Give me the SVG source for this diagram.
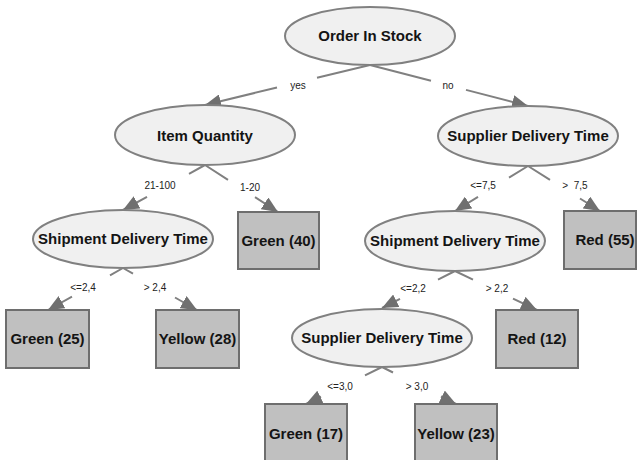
<svg xmlns="http://www.w3.org/2000/svg" width="638" height="460" viewBox="0 0 638 460">
  <defs>
    <marker id="arrow" markerUnits="userSpaceOnUse" markerWidth="16" markerHeight="14" viewBox="0 0 16 14" refX="16" refY="7" orient="auto">
      <path d="M0,0 L16,7 L0,14 z" fill="#707070"/>
    </marker>
    <style>
      .edge { fill: none; stroke: #808080; stroke-width: 2; marker-end: url(#arrow); }
      .elabel { font-family: "Liberation Sans", Arial, sans-serif; font-size: 10px; fill: #222; text-anchor: middle; white-space: pre; }
      .decision ellipse { fill: #f0f0f0; stroke: #808080; stroke-width: 2; }
      .leaf rect { fill: #c0c0c0; stroke: #6e6e6e; stroke-width: 2; }
      .nlabel { font-family: "Liberation Sans", Arial, sans-serif; font-size: 15px; font-weight: bold; fill: #141414; text-anchor: middle; }
    </style>
  </defs>
  <rect width="638" height="460" fill="#ffffff"/>

  <!-- connectors: parent bottom to child top, broken around the branch label -->
  <g id="connectors">
    <path class="edge" d="M370,65 L317,77.8 M277,87.5 L205,105"/>
    <path class="edge" d="M370,65 L431,80.8 M466,89.9 L528,106"/>
    <path class="edge" d="M205,165 L189,173.8 M147,196.8 L123,210"/>
    <path class="edge" d="M205,165 L228,179.8 M255,197.2 L278,212"/>
    <path class="edge" d="M528,166 L509,177.7 M478,196.8 L455,211"/>
    <path class="edge" d="M528,166 L550,179.8 M580,198.5 L600,211"/>
    <path class="edge" d="M123,268 L110,275.3 M72,296.6 L48,310"/>
    <path class="edge" d="M123,268 L133,273.7 M175,297.5 L197,310"/>
    <path class="edge" d="M455,271 L438,279.6 M400,298.9 L382,308"/>
    <path class="edge" d="M455,271 L473,279.6 M513,298.6 L537,310"/>
    <path class="edge" d="M382,367 L365,375.3 M321,396.7 L306,404"/>
    <path class="edge" d="M382,367 L393,372.5 M441,396.5 L456,404"/>

    <text class="elabel" x="298" y="89">yes</text>
    <text class="elabel" x="448" y="89">no</text>
    <text class="elabel" x="160" y="189">21-100</text>
    <text class="elabel" x="250" y="191">1-20</text>
    <text class="elabel" x="483" y="189">&lt;=7,5</text>
    <text class="elabel" x="575" y="189">&gt;  7,5</text>
    <text class="elabel" x="83" y="291">&lt;=2,4</text>
    <text class="elabel" x="155" y="291">&gt; 2,4</text>
    <text class="elabel" x="413" y="292">&lt;=2,2</text>
    <text class="elabel" x="497" y="292">&gt; 2,2</text>
    <text class="elabel" x="340" y="390">&lt;=3,0</text>
    <text class="elabel" x="417" y="390">&gt; 3,0</text>
  </g>

  <!-- decision nodes -->
  <g id="order-in-stock" class="decision">
    <ellipse cx="370" cy="36" rx="85" ry="29"/>
    <text class="nlabel" x="370" y="41">Order In Stock</text>
  </g>
  <g id="item-quantity" class="decision">
    <ellipse cx="205" cy="135" rx="90" ry="30"/>
    <text class="nlabel" x="205" y="141">Item Quantity</text>
  </g>
  <g id="supplier-delivery-time-1" class="decision">
    <ellipse cx="528" cy="136" rx="90" ry="30"/>
    <text class="nlabel" x="528" y="141">Supplier Delivery Time</text>
  </g>
  <g id="shipment-delivery-time-1" class="decision">
    <ellipse cx="123" cy="239" rx="90" ry="29"/>
    <text class="nlabel" x="123" y="244">Shipment Delivery Time</text>
  </g>
  <g id="shipment-delivery-time-2" class="decision">
    <ellipse cx="455" cy="241" rx="90" ry="30"/>
    <text class="nlabel" x="455" y="246">Shipment Delivery Time</text>
  </g>
  <g id="supplier-delivery-time-2" class="decision">
    <ellipse cx="382" cy="338" rx="90" ry="29"/>
    <text class="nlabel" x="382" y="343">Supplier Delivery Time</text>
  </g>

  <!-- leaf nodes -->
  <g id="green-40" class="leaf">
    <rect x="238" y="212" width="81" height="57"/>
    <text class="nlabel" x="278.5" y="246">Green (40)</text>
  </g>
  <g id="red-55" class="leaf">
    <rect x="564" y="211" width="72" height="58"/>
    <text class="nlabel" x="605" y="245">Red (55)</text>
  </g>
  <g id="green-25" class="leaf">
    <rect x="6" y="310" width="83" height="58"/>
    <text class="nlabel" x="47.5" y="344">Green (25)</text>
  </g>
  <g id="yellow-28" class="leaf">
    <rect x="156" y="310" width="83" height="58"/>
    <text class="nlabel" x="197.5" y="344">Yellow (28)</text>
  </g>
  <g id="red-12" class="leaf">
    <rect x="496" y="310" width="82" height="58"/>
    <text class="nlabel" x="537" y="344">Red (12)</text>
  </g>
  <g id="green-17" class="leaf">
    <rect x="265" y="404" width="82" height="58"/>
    <text class="nlabel" x="306" y="439">Green (17)</text>
  </g>
  <g id="yellow-23" class="leaf">
    <rect x="415" y="404" width="82" height="58"/>
    <text class="nlabel" x="456" y="439">Yellow (23)</text>
  </g>
</svg>
